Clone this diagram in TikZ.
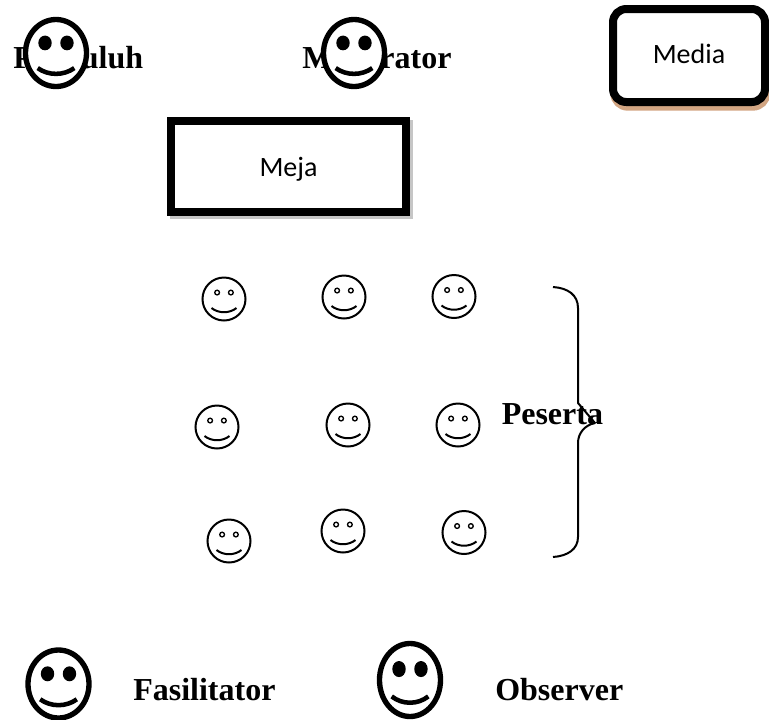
\documentclass[tikz,border=0pt]{standalone}
\usepackage{fontspec}
\setmainfont{Liberation Serif}
\newfontfamily\boxfont{Carlito}
\usetikzlibrary{shadows}
\definecolor{mediashadow}{RGB}{210,165,130}

\tikzset{
	smallface/.pic={
		\draw [line width=1.5pt, fill=white] (0,0) circle (1);
		\draw [line width=1pt] (-.32,-.3) circle (.11);
		\draw [line width=1pt] (.32,-.3) circle (.11);
		\draw [line width=1.5pt] (-.58,.42) .. controls (-.25,.68) and (.25,.68) .. (.58,.42);
	},
	bigface/.pic={
		\draw [line width=4pt, fill=white] (0,0) circle (1);
		\fill (-.36,-.3) circle (.22);
		\fill (.36,-.3) circle (.22);
		\draw [line width=3.4pt] (-.6,.45) .. controls (-.25,.68) and (.25,.68) .. (.6,.45);
	},
}

\begin{document}
\begin{tikzpicture}
				[
					x=.75pt, y=-.75pt,
					titletext/.style={font=\bfseries\fontsize{24}{27}\selectfont, anchor=base west, inner sep=0pt},
					tablebox/.style={rectangle, draw=black, fill=white, line width=6pt, font=\boxfont\fontsize{21}{25}\selectfont, drop shadow={shadow xshift=2.5pt, shadow yshift=-2.5pt, fill=gray!45, draw=gray!45, line width=6pt, opacity=1}},
					mediabox/.style={rectangle, rounded corners=10pt, draw=black, fill=white, line width=6pt, font=\boxfont\fontsize{21}{25}\selectfont, drop shadow={shadow xshift=1pt, shadow yshift=-3.5pt, fill=mediashadow, draw=mediashadow, line width=6pt, opacity=1}},
				]
				\useasboundingbox (0,0) rectangle (769,719);

				\node [titletext] (penyuluh) at (13,68) {Penyuluh};
				\node [titletext] (moderator) at (302,68) {Moderator};
				\node [titletext] (fasilitator) at (133,700) {Fasilitator};
				\node [titletext] (observer) at (495,700) {Observer};

				\node [tablebox, text depth=0pt, minimum width=176.25pt, minimum height=68.25pt] (meja) at (288.5,166.5) {Meja};
				\begin{scope}
					\clip (0,0) rectangle (769,719);
					\node [mediabox, text depth=3pt, minimum width=114pt, minimum height=69.75pt] (media) at (689,55.5) {Media};
				\end{scope}

				\pic [xscale=30.5, yscale=33.5] (facepenyuluh) at (56,53) {bigface};
				\pic [xscale=30.5, yscale=33.5] (facemoderator) at (354,53) {bigface};
				\pic [xscale=30.5, yscale=34] (facefasilitator) at (58.5,684) {bigface};
				\pic [xscale=30.5, yscale=36.5] (faceobserver) at (410,680) {bigface};

				\pic [scale=21.5] (peserta1) at (224,299) {smallface};
				\pic [scale=21.5] (peserta2) at (344,297) {smallface};
				\pic [scale=21.5] (peserta3) at (454,296.5) {smallface};
				\pic [scale=21.5] (peserta4) at (217,427) {smallface};
				\pic [scale=21.5] (peserta5) at (348,425) {smallface};
				\pic [scale=21.5] (peserta6) at (458,425) {smallface};
				\pic [scale=21.5] (peserta7) at (229,541) {smallface};
				\pic [scale=21.5] (peserta8) at (343,531) {smallface};
				\pic [scale=21.5] (peserta9) at (464,532.5) {smallface};

				\draw [line width=1.5pt] (553,287) .. controls (568,288) and (578,295) .. (578,308) -- (578,403) -- (595,423);
				\draw [line width=1.5pt] (595,423) .. controls (585,425) and (578,433) .. (578,443) -- (578,537) .. controls (578,549) and (568,556) .. (553,557);

				\node [titletext] (peserta) at (501.5,424) {Peserta};
			\end{tikzpicture}
\end{document}
